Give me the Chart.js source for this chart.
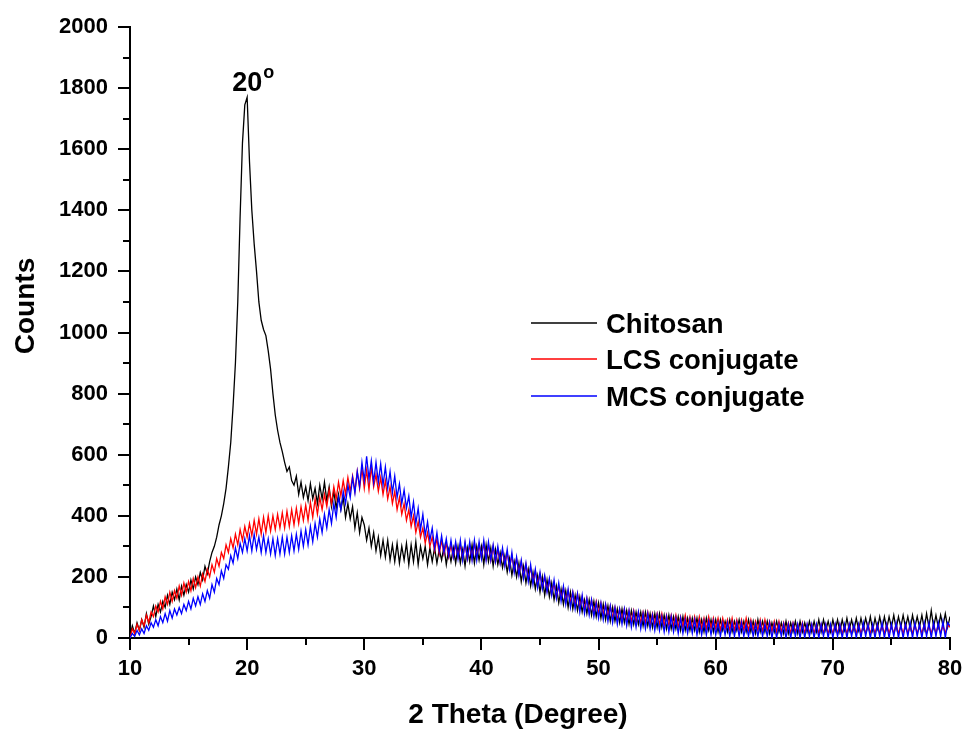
<!DOCTYPE html>
<html>
<head>
<meta charset="utf-8">
<script src="https://cdn.jsdelivr.net/npm/chart.js@4/dist/chart.umd.min.js"></script>
<style>
  html, body { margin: 0; padding: 0; background: #ffffff; }
  #wrap { width: 963px; height: 729px; }
</style>
</head>
<body>
<div id="wrap"><canvas id="xrd" width="963" height="729"></canvas></div>
<script>
// Scan angles (2θ, degrees), 0.2° step
const thetaDeg = [
  10,10.2,10.4,10.6,10.8, 11,11.2,11.4,11.6,11.8, 12,12.2,12.4,12.6,12.8, 13,13.2,13.4,13.6,13.8,
  14,14.2,14.4,14.6,14.8, 15,15.2,15.4,15.6,15.8, 16,16.2,16.4,16.6,16.8, 17,17.2,17.4,17.6,17.8,
  18,18.2,18.4,18.6,18.8, 19,19.2,19.4,19.6,19.8, 20,20.2,20.4,20.6,20.8, 21,21.2,21.4,21.6,21.8,
  22,22.2,22.4,22.6,22.8, 23,23.2,23.4,23.6,23.8, 24,24.2,24.4,24.6,24.8, 25,25.2,25.4,25.6,25.8,
  26,26.2,26.4,26.6,26.8, 27,27.2,27.4,27.6,27.8, 28,28.2,28.4,28.6,28.8, 29,29.2,29.4,29.6,29.8,
  30,30.2,30.4,30.6,30.8, 31,31.2,31.4,31.6,31.8, 32,32.2,32.4,32.6,32.8, 33,33.2,33.4,33.6,33.8,
  34,34.2,34.4,34.6,34.8, 35,35.2,35.4,35.6,35.8, 36,36.2,36.4,36.6,36.8, 37,37.2,37.4,37.6,37.8,
  38,38.2,38.4,38.6,38.8, 39,39.2,39.4,39.6,39.8, 40,40.2,40.4,40.6,40.8, 41,41.2,41.4,41.6,41.8,
  42,42.2,42.4,42.6,42.8, 43,43.2,43.4,43.6,43.8, 44,44.2,44.4,44.6,44.8, 45,45.2,45.4,45.6,45.8,
  46,46.2,46.4,46.6,46.8, 47,47.2,47.4,47.6,47.8, 48,48.2,48.4,48.6,48.8, 49,49.2,49.4,49.6,49.8,
  50,50.2,50.4,50.6,50.8, 51,51.2,51.4,51.6,51.8, 52,52.2,52.4,52.6,52.8, 53,53.2,53.4,53.6,53.8,
  54,54.2,54.4,54.6,54.8, 55,55.2,55.4,55.6,55.8, 56,56.2,56.4,56.6,56.8, 57,57.2,57.4,57.6,57.8,
  58,58.2,58.4,58.6,58.8, 59,59.2,59.4,59.6,59.8, 60,60.2,60.4,60.6,60.8, 61,61.2,61.4,61.6,61.8,
  62,62.2,62.4,62.6,62.8, 63,63.2,63.4,63.6,63.8, 64,64.2,64.4,64.6,64.8, 65,65.2,65.4,65.6,65.8,
  66,66.2,66.4,66.6,66.8, 67,67.2,67.4,67.6,67.8, 68,68.2,68.4,68.6,68.8, 69,69.2,69.4,69.6,69.8,
  70,70.2,70.4,70.6,70.8, 71,71.2,71.4,71.6,71.8, 72,72.2,72.4,72.6,72.8, 73,73.2,73.4,73.6,73.8,
  74,74.2,74.4,74.6,74.8, 75,75.2,75.4,75.6,75.8, 76,76.2,76.4,76.6,76.8, 77,77.2,77.4,77.6,77.8,
  78,78.2,78.4,78.6,78.8, 79,79.2,79.4,79.6,79.8, 80
];

// Counts, Chitosan
const chitosan = [
  5,40,15,50,25, 60,35,80,45,70, 105,70,110,85,120, 100,140,110,150,125,
  160,125,170,140,175, 150,190,160,200,175, 215,190,235,210,250, 280,300,330,370,400,
  440,490,560,640,760, 900,1100,1380,1620,1745, 1770,1560,1400,1290,1200, 1100,1040,1010,990,940,
  880,800,730,680,640, 610,575,545,560,515, 500,530,470,510,460, 495,450,505,455,490,
  440,500,455,510,450, 495,430,480,425,470, 420,460,395,440,390, 430,360,410,345,395,
  370,320,360,300,345, 285,330,270,320,265, 320,255,305,250,310, 245,300,255,310,240,
  305,250,315,240,300, 260,300,240,295,250, 295,245,290,255,300, 240,290,250,295,245,
  300,245,290,235,295, 250,305,245,300,255, 300,240,305,250,295, 235,290,240,280,230,
  270,215,260,205,250, 200,245,185,235,180, 225,170,215,160,205, 150,200,140,190,135,
  180,125,170,115,160, 110,155,100,150,95, 140,90,135,85,125, 80,125,75,120,70,
  115,65,110,60,105, 55,100,55,95,50, 95,50,90,45,90, 45,85,45,85,40,
  85,40,80,35,80, 35,80,35,75,30, 75,30,70,30,70, 25,70,25,65,25,
  65,25,65,20,60, 20,65,25,60,20, 60,20,60,25,55, 20,60,20,55,25,
  60,20,55,20,60, 20,55,15,60,20, 55,20,55,15,50, 20,55,20,50,15,
  55,15,50,20,55, 15,55,20,50,20, 55,20,55,20,60, 20,60,25,55,20,
  60,25,60,20,60, 25,65,25,60,25, 65,25,65,30,65, 30,70,25,65,30,
  70,30,70,30,70, 35,75,30,70,35, 75,35,70,30,75, 35,70,35,75,30,
  80,35,90,35,75, 35,75,40,80,35, 70
];

// Counts, LCS conjugate
const lcsConjugate = [
  0,30,15,45,25, 60,40,75,50,85, 70,105,85,120,95, 135,110,150,120,155,
  130,170,140,180,150, 185,155,195,165,200, 170,210,185,225,200, 240,215,260,235,280,
  260,305,280,325,295, 340,305,355,320,365, 330,375,335,385,340, 390,340,395,345,400,
  350,400,355,405,360, 410,360,415,365,420, 370,425,375,430,385, 435,385,445,395,455,
  405,460,420,470,430, 485,440,495,455,510, 465,515,470,525,480, 530,480,545,490,555,
  490,550,485,560,495, 535,480,525,470,515, 455,495,440,480,420, 460,405,440,385,420,
  365,400,345,380,330, 360,310,345,300,330, 285,325,275,320,275, 310,265,305,265,305,
  265,305,260,310,260, 305,260,310,265,305, 265,310,260,305,255, 300,250,290,245,285,
  240,280,230,270,220, 260,210,250,200,240, 195,230,185,220,175, 210,165,200,155,190,
  145,180,135,170,130, 165,120,155,115,150, 105,145,100,135,95, 130,85,125,80,120,
  80,115,75,110,70, 105,65,100,60,95, 60,95,55,90,55, 90,50,85,50,85,
  50,85,45,80,45, 80,45,80,40,75, 40,75,40,75,35, 70,35,75,35,70,
  30,70,30,70,30, 65,30,70,30,65, 30,65,25,65,30, 60,25,65,25,60,
  25,60,25,65,25, 60,25,55,25,60, 20,60,25,55,20, 55,20,55,20,50,
  20,50,15,50,20, 45,15,50,15,45, 15,45,15,45,15, 45,15,45,15,40,
  15,45,15,45,15, 40,15,45,15,40, 15,45,15,40,15, 45,15,40,15,45,
  15,40,15,45,15, 40,15,45,15,40, 15,45,15,40,15, 45,15,40,15,45,
  15,40,15,45,15, 45,15,40,15,45, 35
];

// Counts, MCS conjugate
const mcsConjugate = [
  0,15,5,25,10, 30,15,40,25,50, 35,60,40,70,50, 80,55,90,65,95,
  75,100,80,110,90, 120,95,130,105,135, 110,145,120,155,130, 175,150,195,175,220,
  195,240,225,270,245, 295,260,310,280,325, 285,335,285,340,290, 330,280,335,280,325,
  275,325,270,325,275, 330,275,330,280,335, 285,340,290,350,300, 355,305,365,315,375,
  330,390,345,405,360, 420,375,440,395,460, 420,480,440,500,460, 525,475,545,495,575,
  515,595,520,580,510, 575,510,570,500,560, 490,545,475,530,460, 505,440,485,425,465,
  395,445,375,425,355, 405,335,380,320,360, 295,345,285,335,280, 325,270,320,265,315,
  260,320,255,315,260, 315,255,320,255,315, 260,320,255,315,255, 305,250,300,245,295,
  235,290,225,280,215, 265,205,255,195,245, 185,240,175,225,165, 215,160,205,150,195,
  140,190,130,180,120, 170,110,160,100,150, 95,145,85,140,80, 130,75,125,70,115,
  65,115,60,110,55, 105,50,100,45,95, 45,95,40,90,35, 85,35,85,30,80,
  30,80,30,75,25, 75,25,70,20,70, 20,70,20,65,15, 65,15,60,15,60,
  15,60,10,55,10, 55,10,55,10,55, 10,50,5,50,10, 50,5,50,5,50,
  5,50,5,45,5, 50,5,45,5,50, 5,45,5,50,0, 45,0,45,5,45,
  0,45,0,45,5, 45,0,45,0,45, 5,45,0,45,0, 45,5,45,0,45,
  0,45,5,45,0, 45,0,45,5,45, 0,45,0,50,5, 45,0,45,0,45,
  5,50,0,45,0, 45,5,50,0,45, 0,45,5,50,0, 50,5,45,0,50,
  5,50,0,50,5, 50,5,55,0,50, 40
];

const seriesNames = ['Chitosan', 'LCS conjugate', 'MCS conjugate'];
const seriesColors = ['#000000', '#ff0000', '#0000ff'];
const xMajorTicks = [10, 20, 30, 40, 50, 60, 70, 80];
const yMajorTicks = [0, 200, 400, 600, 800, 1000, 1200, 1400, 1600, 1800, 2000];
const xTitle = '2 Theta (Degree)';
const yTitle = 'Counts';
const peakTheta = 20;
const peakLabelCounts = 1790;
const peakText = '20';

const FONT = '"Liberation Sans", Arial, sans-serif';

function toPoints(values) {
  return thetaDeg.map((t, i) => ({ x: t, y: values[i] }));
}

// Minor ticks sit halfway between major ticks
function midpoints(arr) {
  const out = [];
  for (let i = 0; i < arr.length - 1; i++) out.push((arr[i] + arr[i + 1]) / 2);
  return out;
}

const decorations = {
  id: 'decorations',
  afterDraw(chart) {
    const { ctx, chartArea, scales } = chart;
    const xs = scales.x, ys = scales.y;
    ctx.save();
    ctx.strokeStyle = '#000';
    ctx.lineWidth = 2;

    // minor ticks
    midpoints(xMajorTicks).forEach(v => {
      const px = Math.round(xs.getPixelForValue(v));
      ctx.beginPath();
      ctx.moveTo(px, chartArea.bottom);
      ctx.lineTo(px, chartArea.bottom + 7);
      ctx.stroke();
    });
    midpoints(yMajorTicks).forEach(v => {
      const py = Math.round(ys.getPixelForValue(v));
      ctx.beginPath();
      ctx.moveTo(chartArea.left, py);
      ctx.lineTo(chartArea.left - 7, py);
      ctx.stroke();
    });

    // axis titles
    ctx.fillStyle = '#000';
    ctx.font = 'bold 28px ' + FONT;
    ctx.textAlign = 'center';
    ctx.textBaseline = 'alphabetic';
    ctx.fillText(xTitle, 518, 723);
    ctx.save();
    ctx.translate(34, 306);
    ctx.rotate(-Math.PI / 2);
    ctx.fillText(yTitle, 0, 0);
    ctx.restore();

    // peak annotation
    const lx = xs.getPixelForValue(peakTheta);
    const ly = ys.getPixelForValue(peakLabelCounts);
    ctx.font = 'bold 27px ' + FONT;
    ctx.textAlign = 'center';
    ctx.fillText(peakText, lx, ly);
    const w = ctx.measureText(peakText).width;
    ctx.font = 'bold 18px ' + FONT;
    ctx.textAlign = 'left';
    ctx.fillText('o', lx + w / 2 + 1, ly - 13);

    // legend
    const legX = 531, legLen = 66, legTextX = 606;
    const rows = [323, 359, 396];
    chart.data.datasets.forEach((ds, i) => {
      ctx.strokeStyle = ds.borderColor;
      ctx.lineWidth = 1.5;
      ctx.beginPath();
      ctx.moveTo(legX, rows[i]);
      ctx.lineTo(legX + legLen, rows[i]);
      ctx.stroke();
      ctx.fillStyle = '#000';
      ctx.font = 'bold 27.5px ' + FONT;
      ctx.textAlign = 'left';
      ctx.textBaseline = 'alphabetic';
      ctx.fillText(ds.label, legTextX, rows[i] + 10);
    });
    ctx.restore();
  }
};

const seriesData = [chitosan, lcsConjugate, mcsConjugate];

new Chart(document.getElementById('xrd'), {
  type: 'line',
  data: {
    datasets: seriesData.map((vals, i) => ({
      label: seriesNames[i],
      data: toPoints(vals),
      borderColor: seriesColors[i],
      backgroundColor: seriesColors[i],
      borderWidth: 1.3,
      pointRadius: 0,
      tension: 0,
      fill: false,
      order: 3 - i
    }))
  },
  options: {
    responsive: false,
    devicePixelRatio: 1,
    animation: false,
    layout: { padding: { top: 27, right: 13, left: 0, bottom: 0 } },
    plugins: { legend: { display: false }, tooltip: { enabled: false } },
    scales: {
      x: {
        type: 'linear',
        min: 10, max: 80,
        afterBuildTicks: s => { s.ticks = xMajorTicks.map(v => ({ value: v })); },
        afterFit: s => { s.height = 91; s.paddingRight = 0; s.paddingLeft = 0; },
        ticks: {
          color: '#000',
          font: { family: FONT, size: 22, weight: 'bold' },
          padding: 6,
          maxRotation: 0,
          callback: v => String(v)
        },
        grid: {
          display: true, drawOnChartArea: false, drawTicks: true,
          tickLength: 12, tickWidth: 2, tickColor: '#000', color: '#000', lineWidth: 2
        },
        border: { display: true, color: '#000', width: 2 }
      },
      y: {
        min: 0, max: 2000,
        afterBuildTicks: s => { s.ticks = yMajorTicks.map(v => ({ value: v })); },
        afterFit: s => { s.width = 130; s.paddingTop = 0; s.paddingBottom = 0; },
        ticks: {
          color: '#000',
          font: { family: FONT, size: 22, weight: 'bold' },
          padding: 10,
          callback: v => String(v)
        },
        grid: {
          display: true, drawOnChartArea: false, drawTicks: true,
          tickLength: 12, tickWidth: 2, tickColor: '#000', color: '#000', lineWidth: 2
        },
        border: { display: true, color: '#000', width: 2 }
      }
    }
  },
  plugins: [decorations]
});
</script>
</body>
</html>
